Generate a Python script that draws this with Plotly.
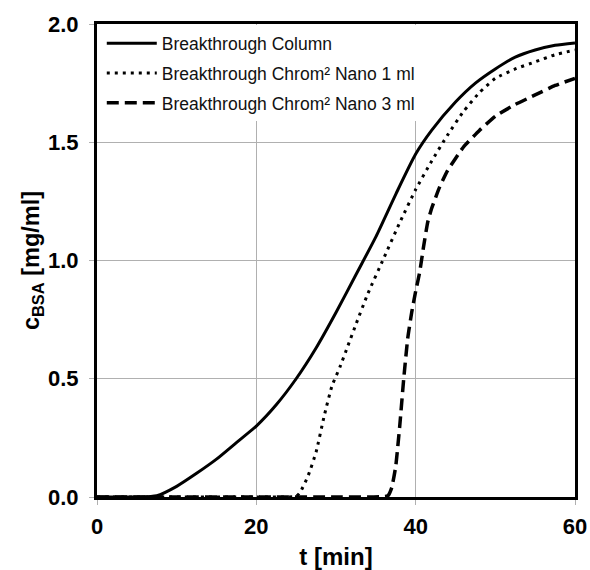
import plotly.graph_objects as go

# Breakthrough Column
t_col = [0, 5, 7.5, 10, 12.5, 15, 17.5, 20, 22.5, 25, 27.5, 30, 32.5, 35, 37.5, 40, 42, 45, 47.5, 50, 52.5, 55, 57.5, 60]
c_col = [0, 0, 0.005, 0.045, 0.10, 0.16, 0.23, 0.30, 0.39, 0.50, 0.63, 0.78, 0.94, 1.10, 1.28, 1.45, 1.55, 1.67, 1.75, 1.81, 1.86, 1.89, 1.91, 1.92]

# Breakthrough Chrom² Nano 1 ml
t_n1 = [0, 10, 20, 25, 25.5, 26.5, 27.5, 28.5, 29.5, 30.5, 31.5, 32.5, 34, 36, 38, 40, 42, 44, 46, 48, 50, 52.5, 55, 57.5, 60]
c_n1 = [0, 0, 0, 0.003, 0.02, 0.09, 0.19, 0.34, 0.47, 0.55, 0.64, 0.73, 0.86, 1.01, 1.16, 1.30, 1.42, 1.53, 1.63, 1.71, 1.77, 1.81, 1.84, 1.87, 1.89]

# Breakthrough Chrom² Nano 3 ml
t_n3 = [0, 10, 20, 30, 36.5, 37, 37.5, 38, 38.5, 39, 39.5, 40, 40.5, 41, 41.5, 42, 43, 44, 46, 48, 50, 52.5, 55, 57.5, 60]
c_n3 = [0, 0, 0, 0, 0.005, 0.04, 0.13, 0.30, 0.50, 0.67, 0.78, 0.87, 0.95, 1.06, 1.16, 1.22, 1.31, 1.38, 1.48, 1.55, 1.61, 1.66, 1.70, 1.74, 1.77]

x_ticks = [0, 20, 40, 60]
y_ticks = [0.0, 0.5, 1.0, 1.5, 2.0]

FONT = "Arial, Liberation Sans, sans-serif"

fig = go.Figure()
fig.add_trace(go.Scatter(x=t_col, y=c_col, mode="lines", name="Breakthrough Column",
                         legendgroup="a", line=dict(color="black", width=3, shape="spline", smoothing=0.6)))
fig.add_trace(go.Scatter(x=t_n1, y=c_n1, mode="lines", name="Breakthrough Chrom² Nano 1 ml",
                         legendgroup="b", line=dict(color="black", width=3, dash="3px,5px",
                                                    shape="spline", smoothing=0.5)))
fig.add_trace(go.Scatter(x=t_n3, y=c_n3, mode="lines", name="Breakthrough Chrom² Nano 3 ml",
                         legendgroup="c", line=dict(color="black", width=3.5, dash="12px,6px",
                                                    shape="spline", smoothing=0.4)))

fig.update_layout(
    width=590, height=570,
    margin=dict(l=97, r=15, t=24, b=73),
    paper_bgcolor="white", plot_bgcolor="white",
    font=dict(family=FONT, color="black"),
    showlegend=True,
    legend=dict(x=0.01, y=0.997, xanchor="left", yanchor="top",
                bgcolor="white", borderwidth=0,
                font=dict(family=FONT, size=17.5, color="#111"),
                tracegroupgap=4, itemwidth=50),
)
fig.update_xaxes(
    range=[0, 60], tickvals=x_ticks, ticktext=[str(v) for v in x_ticks],
    showgrid=True, gridcolor="#b0b0b0", gridwidth=1,
    showline=True, linecolor="black", linewidth=3, mirror=True,
    ticks="outside", ticklen=5, tickcolor="#b0b0b0", ticklabelstandoff=3,
    tickfont=dict(family=FONT, size=22, color="black", weight="bold"),
    title=dict(text="<b>t [min]</b>", font=dict(family=FONT, size=24), standoff=16),
    zeroline=False, automargin=False,
)
fig.update_yaxes(
    range=[0, 2.0], tickvals=y_ticks, ticktext=[f"{v:.1f}" for v in y_ticks],
    showgrid=True, gridcolor="#b0b0b0", gridwidth=1,
    showline=True, linecolor="black", linewidth=3, mirror=True,
    ticks="outside", ticklen=5, tickcolor="#b0b0b0", ticklabelstandoff=6,
    tickfont=dict(family=FONT, size=22, color="black", weight="bold"),
    title=dict(text="<b>c<sub>BSA</sub> [mg/ml]</b>", font=dict(family=FONT, size=23.5), standoff=2),
    zeroline=False, automargin=False,
)

# remove the default page margin so the 590x570 figure fills the window exactly
fig.write_html("out.html",
               config={"displayModeBar": False},
               post_script="document.body.style.margin='0';document.body.style.padding='0';"
                           "document.body.style.overflow='hidden';")
